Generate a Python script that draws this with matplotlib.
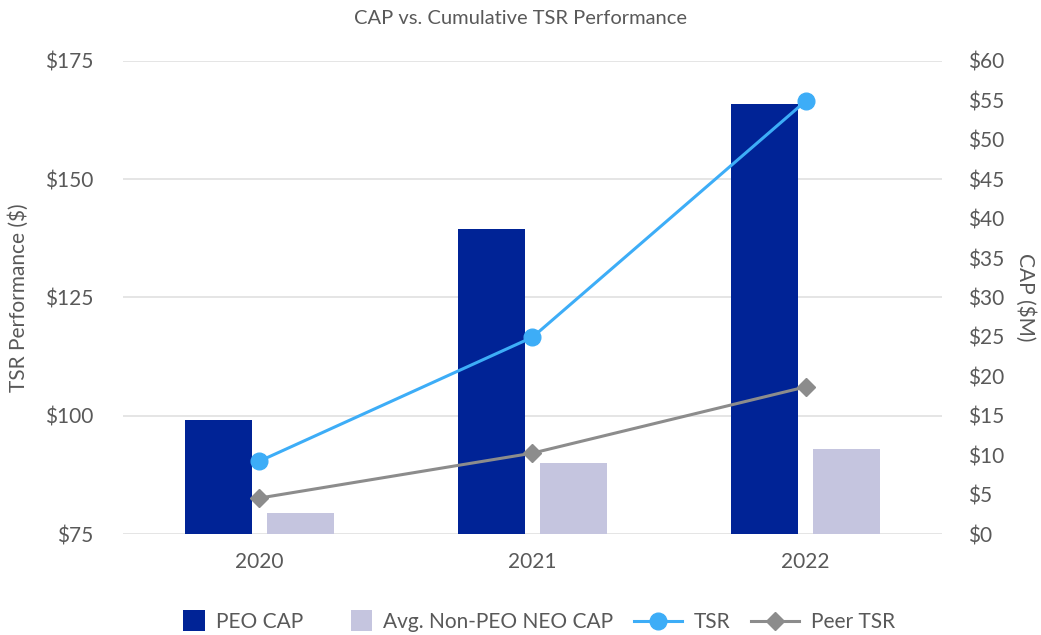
import matplotlib
matplotlib.use("Agg")
import matplotlib.pyplot as plt
from matplotlib.ticker import MultipleLocator, FuncFormatter
from matplotlib.legend_handler import HandlerPatch
from matplotlib.patches import Rectangle
import numpy as np

# Data
years = ["2020", "2021", "2022"]
peo_cap = [14.5, 38.7, 54.5]          # $M
non_peo_cap = [2.7, 9.0, 10.8]        # $M
tsr = [90.4, 116.6, 166.5]            # $
peer_tsr = [82.6, 92.1, 106.1]        # $

plt.rcParams["font.family"] = ["Lato", "DejaVu Sans"]
text_color = "#595959"
fs = 15

fig = plt.figure(figsize=(10.41, 6.35), dpi=100)
ax = fig.add_axes([0.118, 0.159, 0.787, 0.745])
ax2 = ax.twinx()

x = np.arange(len(years))
w = 0.245
off = 0.15

# Bars on the CAP axis
b1 = ax2.bar(x - off, peo_cap, w, color="#002396", zorder=2)
b2 = ax2.bar(x + off, non_peo_cap, w, color="#C5C5DF", zorder=2)
ax2.set_ylim(0, 60)
ax2.yaxis.set_major_locator(MultipleLocator(5))
ax2.yaxis.set_minor_locator(MultipleLocator(15))
ax2.yaxis.remove_overlapping_locs = False
ax2.yaxis.set_major_formatter(FuncFormatter(lambda v, p: f"${v:.0f}"))
ax2.grid(which="minor", axis="y", color="#E3E3E3", linewidth=1.3, zorder=0)
ax2.grid(which="major", axis="y", visible=False)
ax2.set_axisbelow(True)
ax2.tick_params(axis="y", which="both", length=0, pad=19,
                labelsize=fs, labelcolor=text_color)
ax2.set_ylabel("CAP ($M)", rotation=270, labelpad=22, fontsize=fs,
               color=text_color)

# Lines on the TSR axis, drawn above the bars
l1, = ax.plot(x, tsr, color="#3DADF7", linewidth=2.2, marker="o",
              markersize=12)
l2, = ax.plot(x, peer_tsr, color="#8C8C8C", linewidth=2.2, marker="D",
              markersize=9)
ax.set_ylim(75, 175)
ax.yaxis.set_major_locator(MultipleLocator(25))
ax.yaxis.set_major_formatter(FuncFormatter(lambda v, p: f"${v:.0f}"))
ax.tick_params(axis="y", length=0, pad=21, labelsize=fs, labelcolor=text_color)
ax.set_ylabel("TSR Performance ($)", fontsize=fs, color=text_color, labelpad=12)
ax.set_zorder(ax2.get_zorder() + 1)
ax.patch.set_visible(False)

ax.set_xlim(-0.5, 2.5)
ax.set_xticks(x)
ax.set_xticklabels(years)
ax.tick_params(axis="x", length=0, pad=13, labelsize=fs, labelcolor=text_color)

for a in (ax, ax2):
    for s in a.spines.values():
        s.set_visible(False)

fig.suptitle("CAP vs. Cumulative TSR Performance", y=0.985, fontsize=14.5,
             color=text_color)


# Square swatches for the bar series in the legend, flush with the label
def square_patch(legend, orig_handle, xdescent, ydescent, width, height, fontsize):
    side = height * 1.45
    return Rectangle((xdescent + width - side, ydescent + (height - side) / 2),
                     side, side)


sq = HandlerPatch(patch_func=square_patch)
fig.legend(handles=[b1.patches[0], b2.patches[0], l1, l2],
           labels=["PEO CAP", "Avg. Non-PEO NEO CAP", "TSR", "Peer TSR"],
           loc="lower center", ncol=4,
           bbox_to_anchor=(0.505, -0.025), frameon=False, fontsize=fs,
           labelcolor=text_color, columnspacing=1.0, handlelength=2.3,
           handletextpad=0.55,
           handler_map={b1.patches[0]: sq, b2.patches[0]: sq})

fig.savefig("out.png", dpi=100)
